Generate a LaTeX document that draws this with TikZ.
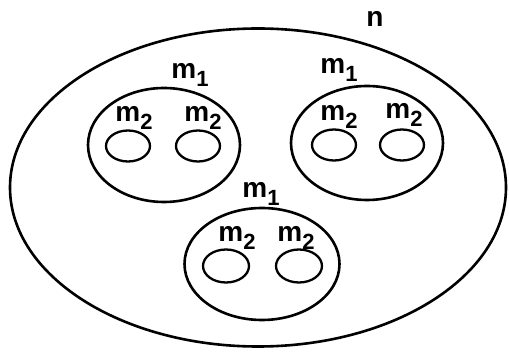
\documentclass[tikz,border=0pt]{standalone}
\usepackage{fontspec}
\setmainfont{Liberation Sans}
\usetikzlibrary{shapes.geometric}
\newcommand{\mlab}[1]{\fontsize{28}{28}\selectfont\bfseries m\hspace{0pt}\raisebox{-8pt}{\fontsize{22}{22}\selectfont #1}}
\begin{document}
\begin{tikzpicture}[x=1pt,y=-1pt,
  ell/.style={draw,ellipse,line width=2.6pt,inner sep=0pt},
  big/.style={ell,minimum width=496pt,minimum height=318pt},
  mid/.style={ell,minimum width=152pt,minimum height=114pt},
  small/.style={ell,line width=2.3pt,minimum width=44pt,minimum height=31pt},
  lab/.style={inner sep=0pt}]
\useasboundingbox (0,0) rectangle (509,352);
\node[big] (N) at (258,187.5) {};
\node[lab] (n) at (375,19) {\fontsize{28}{28}\selectfont\bfseries n};
% left group
\node[mid] (A) at (164,145) {};
\node[lab] (Al) at (190,75) {\mlab{1}};
\node[small] (A1) at (128,146) {};
\node[small] (A2) at (198,146) {};
\node[lab] (A1l) at (134,118) {\mlab{2}};
\node[lab] (A2l) at (203,118) {\mlab{2}};
% right group
\node[mid] (B) at (367,143) {};
\node[lab] (Bl) at (339,70) {\mlab{1}};
\node[small] (B1) at (334,145) {};
\node[small] (B2) at (402,145) {};
\node[lab] (B1l) at (339,117) {\mlab{2}};
\node[lab] (B2l) at (404,115) {\mlab{2}};
% bottom group
\node[mid,minimum width=155pt,minimum height=112pt] (C) at (262,264) {};
\node[lab] (Cl) at (261,194) {\mlab{1}};
\node[small,minimum width=46pt,minimum height=33pt] (C1) at (226,266) {};
\node[small,minimum width=46pt,minimum height=33pt] (C2) at (299,266) {};
\node[lab] (C1l) at (237,238) {\mlab{2}};
\node[lab] (C2l) at (296,238) {\mlab{2}};
\end{tikzpicture}
\end{document}
